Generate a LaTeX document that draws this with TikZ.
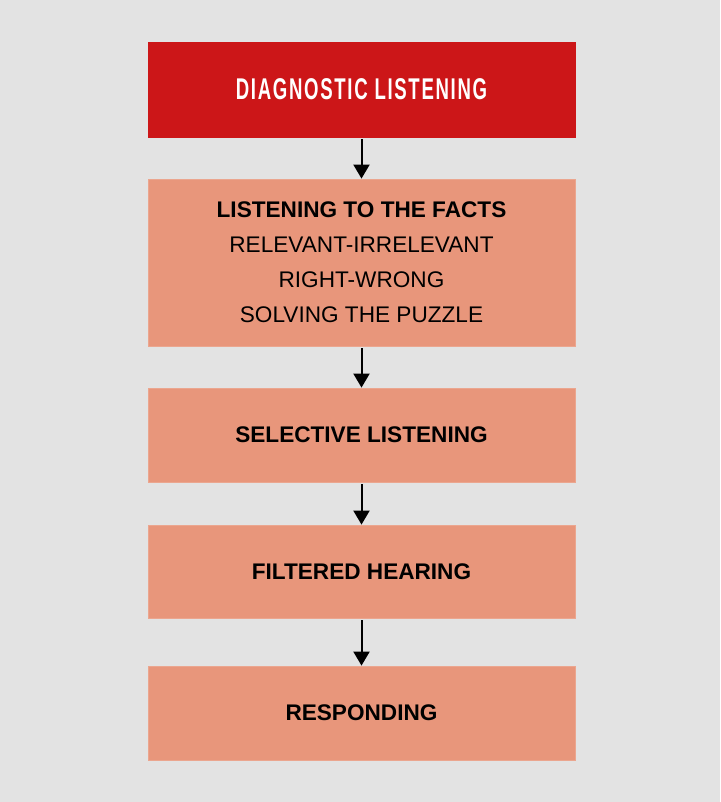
\documentclass[tikz,border=0pt]{standalone}
\usepackage{fontspec}
\usepackage{graphicx}
\usetikzlibrary{arrows.meta}
\setmainfont{Liberation Sans}
\newfontfamily\titlefont[LetterSpace=9]{Liberation Sans}
\definecolor{bgrey}{HTML}{E3E3E3}
\definecolor{diagred}{HTML}{CC1618}
\definecolor{salmon}{HTML}{E8967B}
\tikzset{
  stage/.style={fill=salmon, draw=salmon!85!white, line width=0.8pt, minimum width=427pt, inner sep=0pt, align=center, font=\fontsize{22.6}{35}\selectfont},
  flow/.style={line width=2pt, -{Triangle[length=14pt,width=16pt]}}
}
\begin{document}
\begin{tikzpicture}[x=1pt, y=-1pt] %%% y runs downwards, one unit per pixel
  \fill[bgrey] (0,0) rectangle (720,802); %%% background
  \useasboundingbox (0,0) rectangle (720,802);

  %%% boxes, top to bottom
  \node[stage, fill=diagred, draw=diagred, minimum height=95pt, text=white] (diag) at (361.5,89.5)
    {\scalebox{0.62}[1]{\titlefont\fontsize{30}{30}\selectfont\bfseries DIAGNOSTIC LISTENING}};
  \node[stage, minimum height=167pt] (facts) at (361.5,262.5)
    {\textbf{LISTENING TO THE FACTS}\\RELEVANT-IRRELEVANT\\RIGHT-WRONG\\SOLVING THE PUZZLE};
  \node[stage, minimum height=94pt] (selective) at (361.5,435) {\textbf{SELECTIVE LISTENING}};
  \node[stage, minimum height=93pt] (filtered) at (361.5,571.5) {\textbf{FILTERED HEARING}};
  \node[stage, minimum height=94pt] (responding) at (361.5,713) {\textbf{RESPONDING}};

  %%% arrows
  \foreach \a/\b in {diag/facts, facts/selective, selective/filtered, filtered/responding}
    \draw[flow] ([yshift=-2pt]\a.south) -- (\b.north);
\end{tikzpicture}
\end{document}
